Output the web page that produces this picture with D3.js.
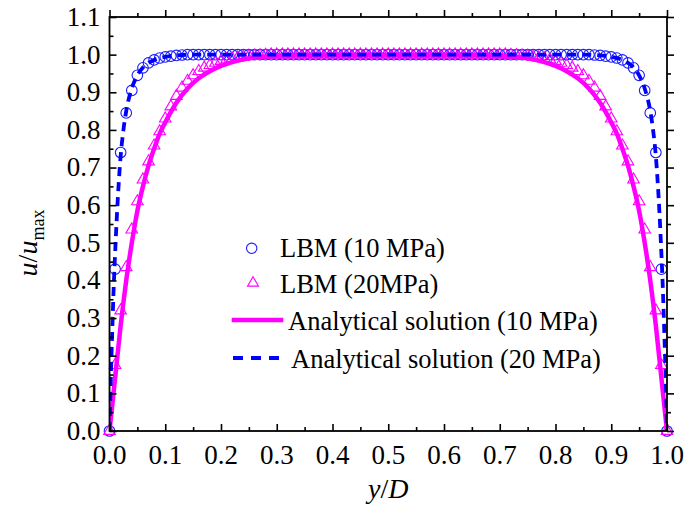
<!DOCTYPE html>
<html>
<head>
<meta charset="utf-8">
<script src="https://cdn.jsdelivr.net/npm/d3@7"></script>
<style>
  body { margin: 0; background: #fff; }
  text { font-family: "Liberation Serif", "Times New Roman", serif; fill: #000; }
</style>
</head>
<body>
<script>
// y/D grid of the LBM nodes
var gridX = [0, 0.01, 0.02, 0.03, 0.04, 0.05, 0.06, 0.07, 0.08, 0.09,
  0.10, 0.11, 0.12, 0.13, 0.14, 0.15, 0.16, 0.17, 0.18, 0.19,
  0.20, 0.21, 0.22, 0.23, 0.24, 0.25, 0.26, 0.27, 0.28, 0.29,
  0.30, 0.31, 0.32, 0.33, 0.34, 0.35, 0.36, 0.37, 0.38, 0.39,
  0.40, 0.41, 0.42, 0.43, 0.44, 0.45, 0.46, 0.47, 0.48, 0.49,
  0.50, 0.51, 0.52, 0.53, 0.54, 0.55, 0.56, 0.57, 0.58, 0.59,
  0.60, 0.61, 0.62, 0.63, 0.64, 0.65, 0.66, 0.67, 0.68, 0.69,
  0.70, 0.71, 0.72, 0.73, 0.74, 0.75, 0.76, 0.77, 0.78, 0.79,
  0.80, 0.81, 0.82, 0.83, 0.84, 0.85, 0.86, 0.87, 0.88, 0.89,
  0.90, 0.91, 0.92, 0.93, 0.94, 0.95, 0.96, 0.97, 0.98, 0.99, 1.0];
// LBM (10 MPa) - circles
var lbm10 = [0, 0.43, 0.74, 0.845, 0.905, 0.945, 0.965, 0.978, 0.986, 0.991,
  0.994, 0.996, 0.998, 0.999, 1, 1, 1, 1, 1, 1,
  1, 1, 1, 1, 1, 1, 1, 1, 1, 1,
  1, 1, 1, 1, 1, 1, 1, 1, 1, 1,
  1, 1, 1, 1, 1, 1, 1, 1, 1, 1,
  1, 1, 1, 1, 1, 1, 1, 1, 1, 1,
  1, 1, 1, 1, 1, 1, 1, 1, 1, 1,
  1, 1, 1, 1, 1, 1, 1, 1, 1, 1,
  1, 1, 1, 1, 1, 1, 1, 0.999, 0.998, 0.996,
  0.994, 0.991, 0.986, 0.978, 0.965, 0.945, 0.905, 0.845, 0.74, 0.43, 0];
// LBM (20MPa) - triangles
var lbm20 = [0, 0.175, 0.32, 0.435, 0.535, 0.61, 0.668, 0.716, 0.758, 0.796,
  0.83, 0.862, 0.89, 0.912, 0.93, 0.945, 0.956, 0.965, 0.972, 0.978,
  0.983, 0.987, 0.99, 0.992, 0.994, 0.996, 0.997, 0.998, 0.999, 1,
  1, 1, 1, 1, 1, 1, 1, 1, 1, 1,
  1, 1, 1, 1, 1, 1, 1, 1, 1, 1,
  1, 1, 1, 1, 1, 1, 1, 1, 1, 1,
  1, 1, 1, 1, 1, 1, 1, 1, 1, 1,
  1, 1, 0.999, 0.998, 0.997, 0.996, 0.994, 0.992, 0.99, 0.987,
  0.983, 0.978, 0.972, 0.965, 0.956, 0.945, 0.93, 0.912, 0.89, 0.862,
  0.83, 0.796, 0.758, 0.716, 0.668, 0.61, 0.535, 0.435, 0.32, 0.175, 0];
// Analytical solution (10 MPa) - solid magenta
var anaX10 = [0, 0.01, 0.02, 0.03, 0.04, 0.05, 0.06, 0.07, 0.08, 0.09, 0.10, 0.12, 0.14, 0.16, 0.18, 0.20, 0.22, 0.25, 0.28, 0.32, 0.40,
  0.50, 0.60, 0.68, 0.72, 0.75, 0.78, 0.80, 0.82, 0.84, 0.86, 0.88, 0.90, 0.91, 0.92, 0.93, 0.94, 0.95, 0.96, 0.97, 0.98, 0.99, 1.0];
var anaU10 = [0, 0.14, 0.28, 0.40, 0.50, 0.585, 0.65, 0.705, 0.75, 0.79, 0.82, 0.872, 0.91, 0.937, 0.956, 0.97, 0.98, 0.99, 0.995, 0.999, 1,
  1, 1, 0.999, 0.995, 0.99, 0.98, 0.97, 0.956, 0.937, 0.91, 0.872, 0.82, 0.79, 0.75, 0.705, 0.65, 0.585, 0.50, 0.40, 0.28, 0.14, 0];
// Analytical solution (20 MPa) - dashed blue
var anaX20 = [0, 0.002, 0.005, 0.008, 0.01, 0.015, 0.02, 0.025, 0.03, 0.04, 0.05, 0.06, 0.07, 0.08, 0.10, 0.12, 0.15, 0.2, 0.5,
  0.8, 0.85, 0.88, 0.9, 0.92, 0.93, 0.94, 0.95, 0.96, 0.97, 0.975, 0.98, 0.985, 0.99, 0.992, 0.995, 0.998, 1.0];
var anaU20 = [0, 0.12, 0.27, 0.40, 0.47, 0.62, 0.73, 0.80, 0.85, 0.91, 0.945, 0.966, 0.978, 0.986, 0.994, 0.998, 1, 1, 1,
  1, 1, 0.998, 0.994, 0.986, 0.978, 0.966, 0.945, 0.91, 0.85, 0.80, 0.73, 0.62, 0.47, 0.40, 0.27, 0.12, 0];

var legendLabels = ['LBM (10 MPa)', 'LBM (20MPa)', 'Analytical solution (10 MPa)', 'Analytical solution (20 MPa)'];
var tickValues = [0, 0.1, 0.2, 0.3, 0.4, 0.5, 0.6, 0.7, 0.8, 0.9, 1.0];
var yTickValues = [0, 0.1, 0.2, 0.3, 0.4, 0.5, 0.6, 0.7, 0.8, 0.9, 1.0, 1.1];

var blue = '#1a1aff', magenta = '#ff00ff';
var width = 685, height = 508;
var margin = { top: 17, right: 18, bottom: 77, left: 109.5 };

var svg = d3.select('body').append('svg')
  .attr('width', width)
  .attr('height', height);

var x = d3.scaleLinear().domain([0, 1]).range([margin.left, width - margin.right]);
var y = d3.scaleLinear().domain([0, 1.1]).range([height - margin.bottom, margin.top]);

// 曲线
var plot = svg.append('g');
svg.append('clipPath').attr('id', 'clip').append('rect')
  .attr('x', x(0)).attr('y', y(1.1)).attr('width', x(1) - x(0)).attr('height', y(0) - y(1.1));

var pts10 = gridX.map((d, i) => [d, lbm10[i]]);
var pts20 = gridX.map((d, i) => [d, lbm20[i]]);

plot.append('g').selectAll('circle')
  .data(pts10).enter().append('circle')
  .attr('cx', d => x(d[0]))
  .attr('cy', d => y(d[1]))
  .attr('r', 5.3)
  .attr('fill', 'none')
  .attr('stroke', blue)
  .attr('stroke-width', 1.1);

var tri = d3.symbol().type(d3.symbolTriangle).size(58);
plot.append('g').selectAll('path')
  .data(pts20).enter().append('path')
  .attr('d', tri)
  .attr('transform', d => `translate(${x(d[0])},${y(d[1])})`)
  .attr('fill', 'none')
  .attr('stroke', magenta)
  .attr('stroke-width', 1.1);

var line = d3.line()
  .x(d => x(d[0]))
  .y(d => y(d[1]))
  .curve(d3.curveMonotoneX);

plot.append('path')
  .datum(anaX10.map((d, i) => [d, anaU10[i]]))
  .attr('d', line)
  .attr('clip-path', 'url(#clip)')
  .attr('fill', 'none')
  .attr('stroke', magenta)
  .attr('stroke-width', 4.5);

plot.append('path')
  .datum(anaX20.map((d, i) => [d, anaU20[i]]))
  .attr('d', line)
  .attr('clip-path', 'url(#clip)')
  .attr('fill', 'none')
  .attr('stroke', '#0000ff')
  .attr('stroke-width', 3.8)
  .attr('stroke-dasharray', '9,6');

// 坐标轴（刻度朝内，四边）
var minorX = d3.range(0.05, 1, 0.1);
var minorY = d3.range(0.05, 1.1, 0.1);
function axisInner(axisFn, scale, vals, len) {
  return axisFn(scale).tickValues(vals).tickSizeInner(-len).tickSizeOuter(0).tickFormat('');
}
var axes = svg.append('g').attr('class', 'axes');
[[d3.axisBottom, y(0)], [d3.axisTop, y(1.1)]].forEach(function (a) {
  var g = axes.append('g').attr('transform', `translate(0,${a[1]})`);
  g.call(axisInner(a[0], x, tickValues, a[0] === d3.axisBottom ? 7 : -7));
  g.append('g').call(axisInner(a[0], x, minorX, a[0] === d3.axisBottom ? 4 : -4));
});
[[d3.axisLeft, x(0)], [d3.axisRight, x(1)]].forEach(function (a) {
  var g = axes.append('g').attr('transform', `translate(${a[1]},0)`);
  g.call(axisInner(a[0], y, yTickValues, a[0] === d3.axisLeft ? 7 : -7));
  g.append('g').call(axisInner(a[0], y, minorY, a[0] === d3.axisLeft ? 4 : -4));
});
axes.selectAll('.domain').remove();
axes.selectAll('line').attr('stroke', '#000').attr('stroke-width', 1.6);

svg.append('rect')
  .attr('x', x(0)).attr('y', y(1.1))
  .attr('width', x(1) - x(0)).attr('height', y(0) - y(1.1))
  .attr('fill', 'none').attr('stroke', '#000').attr('stroke-width', 1.8);

// 刻度文字
svg.append('g').selectAll('text')
  .data(tickValues).enter().append('text')
  .attr('x', d => x(d))
  .attr('y', y(0) + 33)
  .attr('text-anchor', 'middle')
  .style('font-size', '27px')
  .text(d => d.toFixed(1));

svg.append('g').selectAll('text')
  .data(yTickValues).enter().append('text')
  .attr('x', x(0) - 9)
  .attr('y', d => y(d))
  .attr('dy', '0.33em')
  .attr('text-anchor', 'end')
  .style('font-size', '27px')
  .text(d => d.toFixed(1));

// 轴标题
var xt = svg.append('text')
  .attr('x', (x(0) + x(1)) / 2)
  .attr('y', 498)
  .attr('text-anchor', 'middle')
  .style('font-size', '28px')
  .style('font-style', 'italic');
xt.append('tspan').text('y');
xt.append('tspan').style('font-style', 'normal').text('/');
xt.append('tspan').text('D');

var yt = svg.append('text')
  .attr('transform', 'translate(37,243) rotate(-90)')
  .attr('text-anchor', 'middle')
  .style('font-size', '28px');
yt.append('tspan').style('font-style', 'italic').text('u');
yt.append('tspan').text('/');
yt.append('tspan').style('font-style', 'italic').text('u');
yt.append('tspan').attr('dy', 7).style('font-size', '18px').text('max');

// 图例
var leg = svg.append('g');
leg.append('circle').attr('cx', 251.7).attr('cy', 248.3).attr('r', 5.2)
  .attr('fill', 'none').attr('stroke', blue).attr('stroke-width', 1.1);
leg.append('path').attr('d', d3.symbol().type(d3.symbolTriangle).size(52))
  .attr('transform', 'translate(253,283)')
  .attr('fill', 'none').attr('stroke', magenta).attr('stroke-width', 1.1);
leg.append('line').attr('x1', 231.7).attr('x2', 283.3).attr('y1', 320).attr('y2', 320)
  .attr('stroke', magenta).attr('stroke-width', 4.5);
leg.append('line').attr('x1', 233).attr('x2', 279).attr('y1', 358).attr('y2', 358)
  .attr('stroke', '#0000ff').attr('stroke-width', 3.8).attr('stroke-dasharray', '10,8');
var legX = [280, 280, 288, 291];
var legY = [256.5, 292.5, 330, 368];
leg.selectAll('text.lbl')
  .data(legendLabels).enter().append('text')
  .attr('class', 'lbl')
  .attr('x', (d, i) => legX[i])
  .attr('y', (d, i) => legY[i])
  .style('font-size', '26.5px')
  .text(d => d);
</script>
</body>
</html>
